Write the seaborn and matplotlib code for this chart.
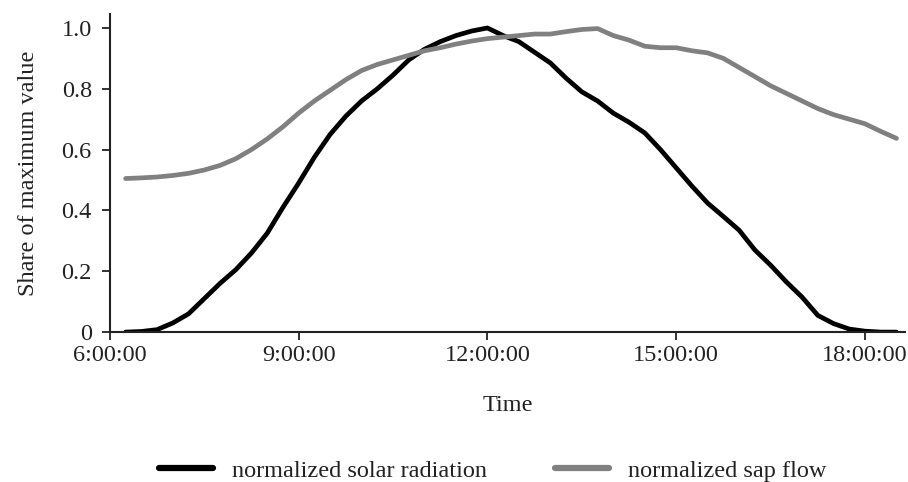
import numpy as np
import pandas as pd
import matplotlib
matplotlib.use("Agg")
import matplotlib.pyplot as plt
import seaborn as sns
from matplotlib.lines import Line2D

# time in hours (15-min steps)
hours = [6.25, 6.5, 6.75, 7.0, 7.25, 7.5, 7.75, 8.0, 8.25, 8.5, 8.75, 9.0,
         9.25, 9.5, 9.75, 10.0, 10.25, 10.5, 10.75, 11.0, 11.25, 11.5, 11.75, 12.0,
         12.25, 12.5, 12.75, 13.0, 13.25, 13.5, 13.75, 14.0, 14.25, 14.5, 14.75, 15.0,
         15.25, 15.5, 15.75, 16.0, 16.25, 16.5, 16.75, 17.0, 17.25, 17.5, 17.75, 18.0,
         18.25, 18.5]

solar = [0.0, 0.002, 0.008, 0.03, 0.06, 0.11, 0.16, 0.205, 0.26, 0.325, 0.41, 0.49,
         0.575, 0.65, 0.71, 0.76, 0.80, 0.845, 0.895, 0.93, 0.955, 0.975, 0.99, 1.0,
         0.975, 0.955, 0.92, 0.885, 0.835, 0.79, 0.76, 0.72, 0.69, 0.655, 0.60, 0.54,
         0.48, 0.424, 0.38, 0.335, 0.27, 0.22, 0.165, 0.115, 0.055, 0.028, 0.01, 0.003,
         0.0, 0.0]

sap = [0.505, 0.507, 0.51, 0.515, 0.522, 0.533, 0.548, 0.57, 0.60, 0.635, 0.675, 0.72,
       0.76, 0.795, 0.83, 0.86, 0.88, 0.895, 0.91, 0.925, 0.935, 0.947, 0.957, 0.965,
       0.97, 0.975, 0.98, 0.98, 0.988, 0.995, 0.998, 0.975, 0.96, 0.94, 0.935, 0.935,
       0.925, 0.918, 0.90, 0.87, 0.84, 0.81, 0.785, 0.76, 0.735, 0.715, 0.70, 0.685,
       0.66, 0.637]

series_names = ["normalized solar radiation", "normalized sap flow"]
series_colors = ["#000000", "#808080"]

x_ticks = [6, 9, 12, 15, 18]
x_tick_labels = ["6:00:00", "9:00:00", "12:00:00", "15:00:00", "18:00:00"]
y_ticks = [0, 0.2, 0.4, 0.6, 0.8, 1.0]
y_tick_labels = ["0", "0.2", "0.4", "0.6", "0.8", "1.0"]

df = pd.DataFrame({
    "Time": hours * 2,
    "value": solar + sap,
    "series": [series_names[0]] * len(hours) + [series_names[1]] * len(hours),
})

sns.set_style("ticks")
plt.rcParams["font.family"] = ["Liberation Serif", "DejaVu Serif"]

FS = 17.5
TXT = "#222222"

fig = plt.figure(figsize=(9.08, 4.82), dpi=100)
ax = fig.add_axes([0.121, 0.311, 0.876, 0.660])

sns.lineplot(data=df, x="Time", y="value", hue="series",
             palette=dict(zip(series_names, series_colors)),
             linewidth=3.4, ax=ax, legend=False)

ax.set_xlim(6.0, 18.64)
ax.set_ylim(0, 1.046)
ax.set_xticks(x_ticks)
ax.set_xticklabels(x_tick_labels)
ax.set_yticks(y_ticks)
ax.set_yticklabels(y_tick_labels)
ax.tick_params(axis="both", labelsize=FS, length=6, width=1.3, color=TXT,
               labelcolor=TXT, direction="out")
ax.tick_params(axis="y", pad=7)
ax.tick_params(axis="x", pad=3)
for s in ["left", "bottom"]:
    ax.spines[s].set_linewidth(1.5)
    ax.spines[s].set_color(TXT)
sns.despine(ax=ax)

ax.set_xlabel("Time", fontsize=FS, color=TXT, labelpad=21)
ax.set_ylabel("Share of maximum value", fontsize=FS, color=TXT, labelpad=16)

handles = [Line2D([], [], color=c, lw=4.5) for c in series_colors]
fig.legend(handles, series_names, loc="center", bbox_to_anchor=(0.543, 0.023),
           ncol=2, frameon=False, fontsize=FS, handlelength=2.2,
           columnspacing=2.8, handletextpad=0.8, labelcolor=TXT)

fig.savefig("out.png", dpi=100)
